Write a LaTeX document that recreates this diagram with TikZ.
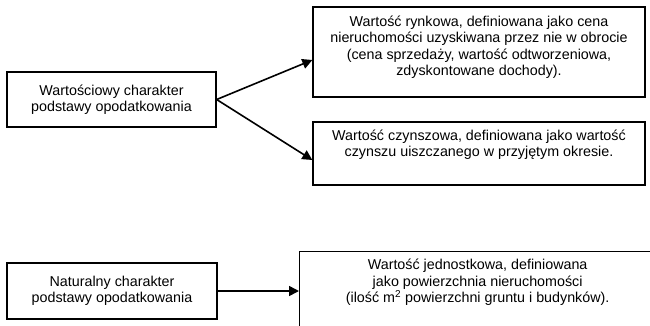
\documentclass[tikz,border=0pt]{standalone}
\usepackage{fontspec}
\setmainfont{Liberation Sans}
\usetikzlibrary{positioning,arrows.meta}

\begin{document}
\begin{tikzpicture}[
  x=1pt,y=-1pt,
  font=\fontsize{14.3}{16.5}\selectfont,
  box/.style={draw,line width=1.3pt,inner sep=0pt},
  txt/.style={align=center,inner sep=0pt},
  arr/.style={line width=1.6pt,-{Triangle[length=10pt,width=10pt]}}
]
  \useasboundingbox (0,0) rectangle (650,325);
  \clip (0,0) rectangle (650,325);

  % left boxes
  \node[box,txt,minimum width=209pt,minimum height=55pt] (wart) at (111.5,99.5) {Wartościowy charakter\\podstawy opodatkowania};
  \node[box,txt,minimum width=210pt,minimum height=56pt] (natur) at (112,291) {Naturalny charakter\\podstawy opodatkowania};

  % right boxes, text hangs from the top
  \node[box,minimum width=332pt,minimum height=90pt] (rynek) at (479,52) {};
  \node[txt,below=9pt of rynek.north] (rynekT) {Wartość rynkowa, definiowana jako cena\\nieruchomości uzyskiwana przez nie w obrocie\\(cena sprzedaży, wartość odtworzeniowa,\\zdyskontowane dochody).};

  \node[box,minimum width=332pt,minimum height=63pt] (czynsz) at (479,153.5) {};
  \node[txt,below=8pt of czynsz.north] (czynszT) {Wartość czynszowa, definiowana jako wartość\\czynszu uiszczanego w przyjętym okresie.};

  \node[box,minimum width=356pt,minimum height=100pt,anchor=north west] (jedn) at (299,251) {};
  \node[txt,below=8pt of jedn.north] (jednT) {Wartość jednostkowa, definiowana\\jako powierzchnia nieruchomości\\(ilość m\textsuperscript{2} powierzchni gruntu i budynków).};

  \draw[arr] (wart.east) -- ([yshift=-8pt]rynek.west);
  \draw[arr] (wart.east) -- ([yshift=-6.5pt]czynsz.west);
  \draw[arr] (natur.east) -- (natur.east -| jedn.west);
\end{tikzpicture}
\end{document}
